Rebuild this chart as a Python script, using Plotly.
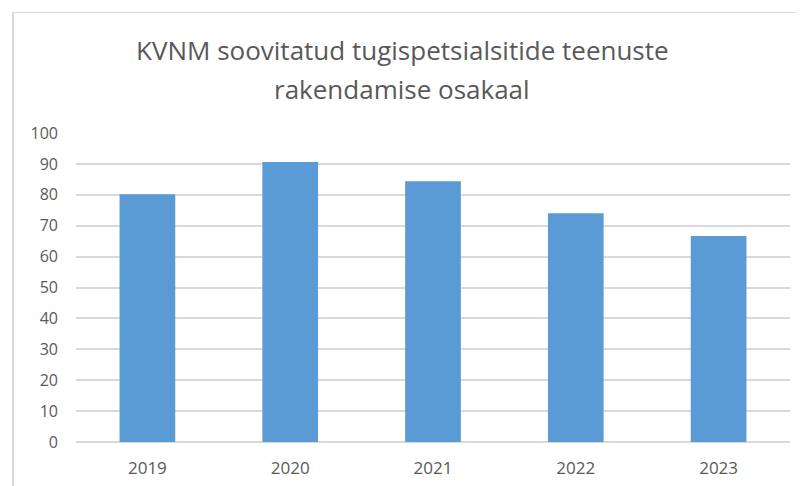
import plotly.graph_objects as go

years = ["2019", "2020", "2021", "2022", "2023"]
values = [80.2, 90.6, 84.4, 74.0, 66.7]
title_lines = ["KVNM soovitatud tugispetsialsitide teenuste", "rakendamise osakaal"]

W, H = 804, 486
OFF = 8  # page body margin offset of the rendered figure
# desired plot area in page pixels: x 76..790, y 133..442
L, R, T, B = 76 - OFF, W - (790 - OFF), 133 - OFF, H - (442 - OFF)
pw, ph = W - L - R, H - T - B


def px_x(x):
    """page pixel x -> paper coordinate"""
    return (x - OFF - L) / pw


def px_y(y):
    """page pixel y -> paper coordinate"""
    return ((H - B) - (y - OFF)) / ph


fig = go.Figure(go.Bar(x=years, y=values, marker_color="#5B9BD5",
                       marker_line_width=0))

fig.update_layout(
    width=W, height=H,
    margin=dict(l=L, r=R, t=T, b=B),
    paper_bgcolor="white", plot_bgcolor="white",
    bargap=0.61,
    showlegend=False,
    font=dict(family="Open Sans", size=17, color="#595959"),
    xaxis=dict(showgrid=False, showline=False, ticks="", ticklabelstandoff=14,
               tickfont=dict(size=17)),
    yaxis=dict(range=[0, 100], dtick=10, showgrid=True, gridcolor="#D9D9D9",
               gridwidth=1.5, zeroline=True, zerolinecolor="#D9D9D9",
               zerolinewidth=1.5, ticks="", ticklabelstandoff=17,
               tickfont=dict(size=16)),
)

# title (two lines, placed separately to match line spacing)
for txt, yc in zip(title_lines, [50, 89]):
    fig.add_annotation(text=txt, xref="paper", yref="paper",
                       x=px_x(402), y=px_y(yc), xanchor="center", yanchor="middle",
                       showarrow=False,
                       font=dict(family="Open Sans", size=26, color="#595959"))

# outer chart border (left and top edges visible)
fig.add_shape(type="line", xref="paper", yref="paper",
              x0=px_x(13), x1=px_x(13), y0=px_y(500), y1=px_y(12),
              line=dict(color="#D9D9D9", width=2))
fig.add_shape(type="line", xref="paper", yref="paper",
              x0=px_x(12), x1=px_x(820), y0=px_y(12.5), y1=px_y(12.5),
              line=dict(color="#D9D9D9", width=1.2))

fig.write_html("out.html")
